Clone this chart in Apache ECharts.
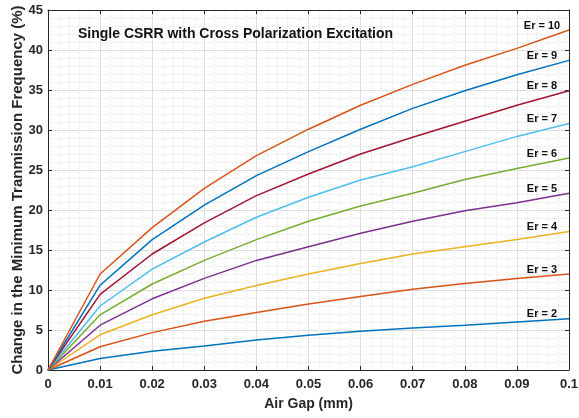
<!DOCTYPE html>
<html>
<head>
<meta charset="utf-8">
<script src="https://cdn.jsdelivr.net/npm/echarts@6/dist/echarts.min.js"></script>
<style>
  html, body { margin: 0; padding: 0; background: #fff; }
  #chart { width: 579px; height: 418px; }
</style>
</head>
<body>
<div id="chart"></div>
<script>
// air gap (mm)
const airGap = [0, 0.01, 0.02, 0.03, 0.04, 0.05, 0.06, 0.07, 0.08, 0.09, 0.1]
const seriesNames = ['Er = 2', 'Er = 3', 'Er = 4', 'Er = 5', 'Er = 6', 'Er = 7', 'Er = 8', 'Er = 9', 'Er = 10']
// change in minimum transmission frequency (%)
const er2 = [0, 1.45, 2.33, 3.0, 3.75, 4.35, 4.85, 5.25, 5.6, 6.0, 6.4]
const er3 = [0, 2.9, 4.67, 6.1, 7.2, 8.25, 9.2, 10.1, 10.8, 11.45, 12.0]
const er4 = [0, 4.4, 6.9, 8.96, 10.55, 12.0, 13.3, 14.5, 15.4, 16.3, 17.3]
const er5 = [0, 5.6, 8.9, 11.45, 13.7, 15.4, 17.1, 18.6, 19.9, 20.9, 22.1]
const er6 = [0, 6.9, 10.75, 13.7, 16.3, 18.6, 20.5, 22.1, 23.8, 25.2, 26.5]
const er7 = [0, 8.0, 12.6, 16.0, 19.1, 21.6, 23.75, 25.4, 27.3, 29.2, 30.8]
const er8 = [0, 9.45, 14.5, 18.4, 21.8, 24.5, 27.0, 29.1, 31.1, 33.1, 34.9]
const er9 = [0, 10.6, 16.3, 20.6, 24.3, 27.3, 30.1, 32.7, 34.9, 36.9, 38.7]
const er10 = [0, 12.0, 17.8, 22.7, 26.8, 30.1, 33.1, 35.7, 38.1, 40.2, 42.5]
const allValues = [er2, er3, er4, er5, er6, er7, er8, er9, er10]

// matlab default line colours
const colors = ['#0072BD', '#D95319', '#EDB120', '#7E2F8E', '#77AC30', '#4DBEEE', '#A2142F', '#0072BD', '#D95319']
const txt = '#262626'
const font = 'Arial, "Liberation Sans", sans-serif'

const chart = echarts.init(document.getElementById('chart'))

const series = allValues.map((vals, i) => {
  const last = vals.length - 1
  return {
    name: seriesNames[i],
    type: 'line',
    showSymbol: false,
    symbol: 'none',
    animation: false,
    lineStyle: { color: colors[i], width: 1.5 },
    data: vals.map((v, j) => [airGap[j], v]),
    // "Er = n" tag just above the end of each curve
    markPoint: {
      symbol: 'circle',
      symbolSize: 0,
      animation: false,
      silent: true,
      data: [{ coord: [airGap[last], vals[last]] }],
      label: {
        show: true,
        position: 'top',
        distance: 0,
        offset: [-27, 1],
        formatter: seriesNames[i],
        color: '#111',
        fontWeight: 'bold',
        fontSize: 11,
        fontFamily: font
      }
    }
  }
})

const axisCommon = {
  axisLine: { show: true, onZero: false, lineStyle: { color: '#262626', width: 1 } },
  axisTick: { show: true, inside: true, length: 4, lineStyle: { color: '#262626' } },
  axisLabel: { color: txt, fontSize: 13, fontWeight: 'bold', fontFamily: font }
}
const gridLine = { show: true, lineStyle: { color: '#dedede', width: 1 } }
const minorGrid = { show: true, lineStyle: { color: '#e6e6e6', width: 1, type: [1, 1] } }

const option = {
  backgroundColor: '#fff',
  animation: false,
  title: {
    text: 'Single CSRR with Cross Polarization Excitation',
    left: 73,
    top: 22,
    textStyle: { color: '#111', fontSize: 14, fontWeight: 'bold', fontFamily: font }
  },
  grid: { left: 48, right: 10, top: 10, bottom: 48, containLabel: false, outerBoundsMode: 'none' },
  xAxis: [
    Object.assign({}, axisCommon, {
      type: 'value',
      min: 0,
      max: 0.1,
      interval: 0.01,
      name: 'Air Gap (mm)',
      nameLocation: 'middle',
      nameGap: 27,
      nameMoveOverlap: false,
      nameTextStyle: { color: txt, fontSize: 14, fontWeight: 'bold', fontFamily: font },
      axisLabel: Object.assign({}, axisCommon.axisLabel, {
        margin: 8,
        formatter: v => (Math.round(v * 100) / 100).toString()
      }),
      splitLine: gridLine,
      minorTick: { show: false, splitNumber: 5 },
      minorSplitLine: minorGrid
    }),
    Object.assign({}, axisCommon, {
      type: 'value',
      position: 'top',
      min: 0,
      max: 0.1,
      interval: 0.01,
      axisLabel: { show: false },
      splitLine: { show: false }
    })
  ],
  yAxis: [
    Object.assign({}, axisCommon, {
      type: 'value',
      min: 0,
      max: 45,
      interval: 5,
      name: 'Change in the Minimum Tranmission Frequency (%)',
      nameLocation: 'middle',
      nameGap: 23,
      nameMoveOverlap: false,
      nameTextStyle: { color: txt, fontSize: 15, fontWeight: 'bold', fontFamily: font },
      axisLabel: Object.assign({}, axisCommon.axisLabel, { margin: 5 }),
      splitLine: gridLine,
      minorTick: { show: false, splitNumber: 5 },
      minorSplitLine: minorGrid
    }),
    Object.assign({}, axisCommon, {
      type: 'value',
      position: 'right',
      min: 0,
      max: 45,
      interval: 5,
      axisLabel: { show: false },
      splitLine: { show: false }
    })
  ],
  series: series
}

chart.setOption(option)
</script>
</body>
</html>
